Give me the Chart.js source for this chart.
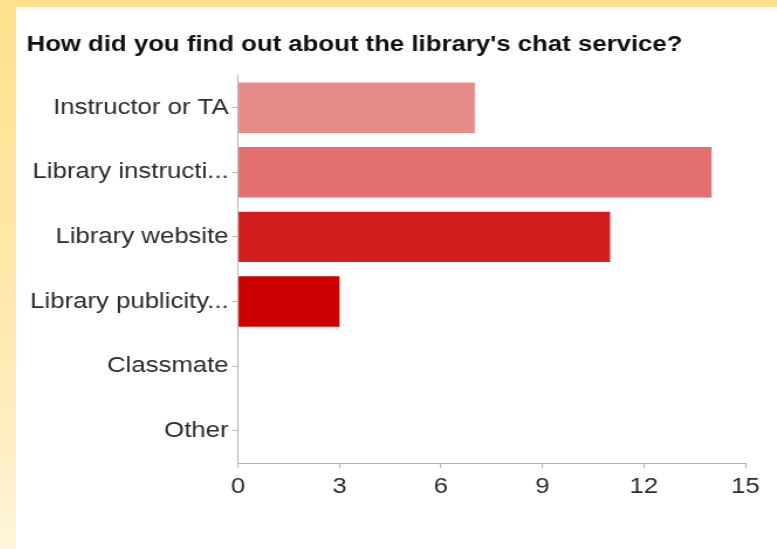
<!DOCTYPE html>
<html>
<head>
<meta charset="utf-8">
<title>Library chat service survey</title>
<script src="https://cdn.jsdelivr.net/npm/chart.js@4.4.1/dist/chart.umd.min.js"></script>
<style>
  html, body {
    margin: 0;
    padding: 0;
    width: 777px;
    height: 549px;
    overflow: hidden;
    background: linear-gradient(to bottom, #ffe08a 0%, #ffebb8 70%, #fff5dc 100%);
  }
  #panel {
    position: absolute;
    left: 16px;
    top: 7px;
    width: 761px;
    height: 542px;
    background: #fff;
    overflow: hidden;
  }
  /* the chart is laid out narrower and widened to the panel, like the survey summary export */
  #chartBox {
    position: relative;
    width: 650px;
    height: 542px;
    transform: scaleX(1.1708);
    transform-origin: 0 0;
  }
</style>
</head>
<body>
<div id="panel">
  <div id="chartBox">
    <canvas id="chatChart"></canvas>
  </div>
</div>
<script>
const TITLE = "How did you find out about the library's chat service?";

const categories = [
  "Instructor or TA",
  "Library instructi...",
  "Library website",
  "Library publicity...",
  "Classmate",
  "Other"
];
const responses = [7, 14, 11, 3, 0, 0];

const X_MIN = 0;
const X_MAX = 15;
const X_STEP = 3;

// bar shades, lightest first
const barColors = ["#e68a8a", "#e36f6f", "#d41e1e", "#cc0000", "#cc0000", "#cc0000"];

const AXIS_GREY = "#b3b3b3";
const LABEL_FONT = "'Liberation Sans', Arial, sans-serif";

function initChart() {
  const ctx = document.getElementById("chatChart").getContext("2d");

  return new Chart(ctx, {
    type: "bar",
    data: {
      labels: categories,
      datasets: [
        {
          data: responses,
          backgroundColor: barColors,
          borderWidth: 0,
          categoryPercentage: 1,
          barPercentage: 0.78
        }
      ]
    },
    options: {
      indexAxis: "y",
      responsive: true,
      maintainAspectRatio: false,
      animation: false,
      layout: {
        padding: { left: 9, right: 27, top: 0, bottom: 0 }
      },
      plugins: {
        legend: { display: false },
        tooltip: { enabled: false },
        title: {
          display: true,
          text: TITLE,
          align: "start",
          color: "#111",
          font: { family: LABEL_FONT, size: 22, weight: "bold" },
          padding: { top: 25, bottom: 17 }
        }
      },
      scales: {
        y: {
          grid: {
            drawOnChartArea: false,
            drawTicks: true,
            tickLength: 5,
            offset: false,
            color: AXIS_GREY
          },
          border: { color: AXIS_GREY },
          ticks: {
            color: "#2b2b2b",
            padding: 3,
            font: { family: LABEL_FONT, size: 22 }
          },
          afterFit: scale => { scale.width = 180.6; }
        },
        x: {
          min: X_MIN,
          max: X_MAX,
          grid: {
            drawOnChartArea: false,
            drawTicks: true,
            tickLength: 5,
            color: AXIS_GREY
          },
          border: { color: AXIS_GREY },
          ticks: {
            stepSize: X_STEP,
            color: "#2b2b2b",
            padding: 6,
            maxRotation: 0,
            font: { family: LABEL_FONT, size: 22 }
          },
          afterFit: scale => { scale.height = 86; }
        }
      }
    }
  });
}

document.addEventListener("DOMContentLoaded", () => {
  initChart();
});
</script>
</body>
</html>
